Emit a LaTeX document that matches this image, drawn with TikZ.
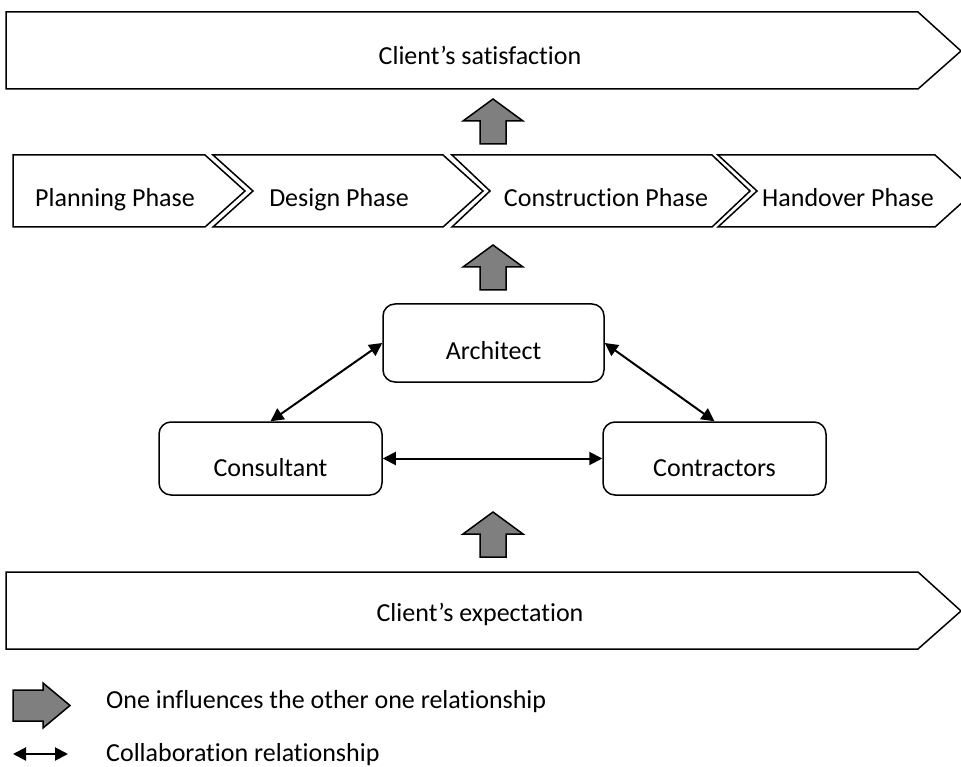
\documentclass[tikz,border=0pt]{standalone}
\usepackage{fontspec}
\setmainfont{Carlito}[Ligatures={NoCommon}]
\usetikzlibrary{arrows.meta}
\definecolor{inflgray}{HTML}{7F7F7F}
\begin{document}
\begin{tikzpicture}[x=1pt,y=-1pt,line join=miter,
  chevron/.style={draw=black,line width=1.5pt,fill=white},
  txt/.style={inner sep=0pt,font=\fontsize{26}{30}\selectfont},
  role/.style={draw=black,line width=1.5pt,rounded corners=12pt,fill=white,
    inner sep=0pt},
  influence/.style={draw=black,line width=1.5pt,fill=inflgray},
  collab/.style={line width=2pt,
    {Triangle[length=13pt,width=13pt]}-{Triangle[length=13pt,width=13pt]}}]
\useasboundingbox (0,0) rectangle (961,767);
\clip (0,0) rectangle (961,767);

% outcome banner
\draw[chevron] (6,12) -- (918,12) -- (961,51) -- (918,89) -- (6,89) -- cycle;
\node[txt,anchor=base] (satisfaction) at (480,65) {Client’s satisfaction};

% project phases
\draw[chevron] (13,155) -- (205,155) -- (245,191) -- (205,227) -- (13,227) -- cycle;
\draw[chevron] (213,155) -- (443,155) -- (483,191) -- (443,227) -- (213,227) -- (253,191) -- cycle;
\draw[chevron] (452,155) -- (712,155) -- (750,191) -- (712,227) -- (452,227) -- (490,191) -- cycle;
\draw[chevron] (718,155) -- (935,155) -- (975,191) -- (935,227) -- (718,227) -- (757,191) -- cycle;
\node[txt,anchor=base] (planning) at (115,207) {Planning Phase};
\node[txt,anchor=base] (design) at (339,207) {Design Phase};
\node[txt,anchor=base] (construction) at (606,207) {Construction Phase};
\node[txt,anchor=base] (handover) at (848,207) {Handover Phase};

% parties
\node[role,minimum width=221pt,minimum height=78pt] (architect) at (493.5,343) {};
\node[role,minimum width=223pt,minimum height=73pt] (consultant) at (270.5,458.5) {};
\node[role,minimum width=223pt,minimum height=73pt] (contractors) at (714.5,458.5) {};
\node[txt,anchor=base] (architectname) at (493.5,359) {Architect};
\node[txt,anchor=base] (consultantname) at (270.5,476) {Consultant};
\node[txt,anchor=base] (contractorsname) at (714.5,476) {Contractors};

\draw[collab] (architect.west) -- (consultant.north);
\draw[collab] (architect.east) -- (contractors.north);
\draw[collab] (consultant.east) -- (contractors.west);

% input banner
\draw[chevron] (6,572) -- (918,572) -- (961,611) -- (918,649) -- (6,649) -- cycle;
\node[txt,anchor=base] (expectation) at (480,621) {Client’s expectation};

% influence arrows
\foreach \ytip in {99,245,512}{
  \draw[influence] (493,\ytip) -- ++(30,22) -- ++(-17,0) -- ++(0,23) -- ++(-26,0)
    -- ++(0,-23) -- ++(-17,0) -- cycle;
}

% legend
\draw[influence] (13,690) -- (43,690) -- (43,683) -- (70,705.5) -- (43,728) -- (43,721)
  -- (13,721) -- cycle;
\node[txt,anchor=base west] (legendinfl) at (106,708) {One influences the other one relationship};
\coordinate (collabA) at (13,754);
\coordinate (collabB) at (68,754);
\draw[collab] (collabA) -- (collabB);
\node[txt,anchor=base west] (legendcollab) at (106,761) {Collaboration relationship};
\end{tikzpicture}
\end{document}
